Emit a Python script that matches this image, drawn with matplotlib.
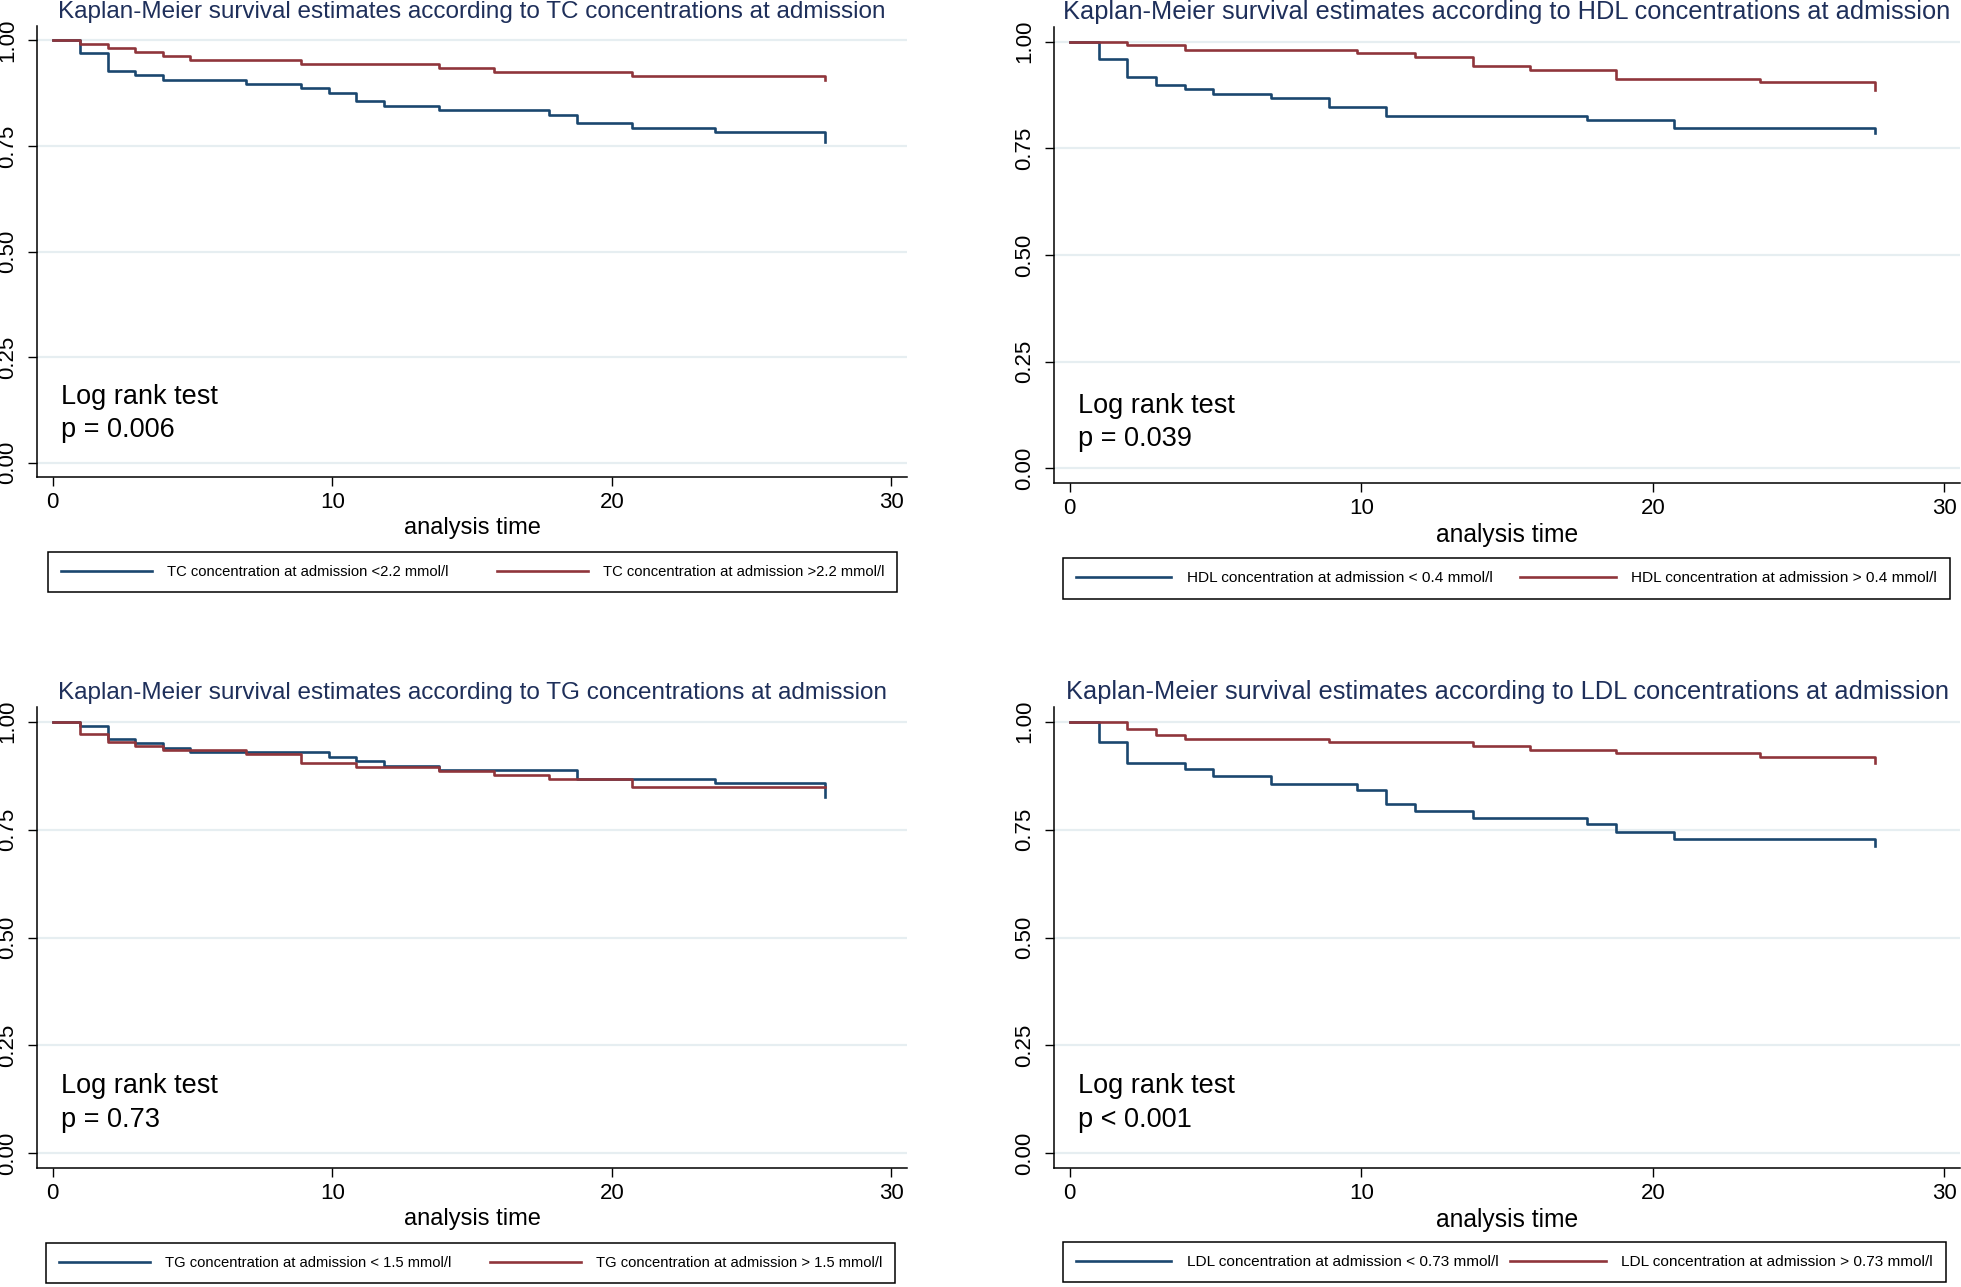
import matplotlib.pyplot as plt
import numpy as np

plt.rcParams['font.family'] = ['Liberation Sans', 'DejaVu Sans']

## survival curves, time in months (step values)
tc_lo_t = [0, 0.99, 1.97, 2.96, 3.95, 6.91, 8.88, 9.87, 10.86, 11.84, 13.82, 17.76, 18.75, 20.72, 23.68, 27.63]
tc_lo_s = [1.0, 0.969, 0.928, 0.918, 0.907, 0.897, 0.886, 0.876, 0.856, 0.845, 0.834, 0.824, 0.804, 0.793, 0.783, 0.760]
tc_hi_t = [0, 0.99, 1.97, 2.96, 3.95, 4.93, 8.88, 13.82, 15.79, 20.72, 27.63]
tc_hi_s = [1.0, 0.992, 0.982, 0.972, 0.963, 0.953, 0.945, 0.934, 0.925, 0.915, 0.905]

hdl_lo_t = [0, 0.99, 1.97, 2.96, 3.95, 4.93, 6.91, 8.88, 10.86, 17.76, 20.72, 27.63]
hdl_lo_s = [1.0, 0.959, 0.918, 0.898, 0.888, 0.877, 0.867, 0.847, 0.826, 0.817, 0.797, 0.785]
hdl_hi_t = [0, 1.97, 3.95, 9.87, 11.84, 13.82, 15.79, 18.75, 23.68, 27.63]
hdl_hi_s = [1.0, 0.991, 0.980, 0.972, 0.963, 0.943, 0.934, 0.913, 0.905, 0.886]

tg_lo_t = [0, 0.99, 1.97, 2.96, 3.95, 4.93, 9.87, 10.86, 11.84, 13.82, 18.75, 23.68, 27.63]
tg_lo_s = [1.0, 0.991, 0.959, 0.950, 0.940, 0.930, 0.918, 0.909, 0.898, 0.889, 0.867, 0.857, 0.826]
tg_hi_t = [0, 0.99, 1.97, 2.96, 3.95, 6.91, 8.88, 10.86, 13.82, 15.79, 17.76, 20.72, 27.63]
tg_hi_s = [1.0, 0.972, 0.953, 0.943, 0.934, 0.924, 0.904, 0.894, 0.886, 0.876, 0.867, 0.848, 0.848]

ldl_lo_t = [0, 0.99, 1.97, 3.95, 4.93, 6.91, 9.87, 10.86, 11.84, 13.82, 17.76, 18.75, 20.72, 27.63]
ldl_lo_s = [1.0, 0.953, 0.904, 0.890, 0.873, 0.856, 0.841, 0.809, 0.793, 0.778, 0.762, 0.745, 0.729, 0.713]
ldl_hi_t = [0, 1.97, 2.96, 3.95, 8.88, 13.82, 15.79, 18.75, 23.68, 27.63]
ldl_hi_s = [1.0, 0.984, 0.968, 0.960, 0.952, 0.943, 0.935, 0.927, 0.919, 0.904]

markers = ['TC', 'HDL', 'TG', 'LDL']
lo_labels = ['TC concentration at admission <2.2 mmol/l',
             'HDL concentration at admission < 0.4 mmol/l',
             'TG concentration at admission < 1.5 mmol/l',
             'LDL concentration at admission < 0.73 mmol/l']
hi_labels = ['TC concentration at admission >2.2 mmol/l',
             'HDL concentration at admission > 0.4 mmol/l',
             'TG concentration at admission > 1.5 mmol/l',
             'LDL concentration at admission > 0.73 mmol/l']
p_texts = ['p = 0.006', 'p = 0.039', 'p = 0.73', 'p < 0.001']
curves = [(tc_lo_t, tc_lo_s, tc_hi_t, tc_hi_s),
          (hdl_lo_t, hdl_lo_s, hdl_hi_t, hdl_hi_s),
          (tg_lo_t, tg_lo_s, tg_hi_t, tg_hi_s),
          (ldl_lo_t, ldl_lo_s, ldl_hi_t, ldl_hi_s)]

yticks = [0, 0.25, 0.5, 0.75, 1.0]
xticks = [0, 10, 20, 30]

W, H = 1961, 1287
BLUE = '#1a476f'
RED = '#90353b'
TITLE = '#1e2f5a'

# panel boxes in pixels: left, top, right, bottom ; legend boxes the same way
ax_px = [(37, 26, 907, 477), (1054, 27, 1960, 483),
         (37, 707, 907, 1168), (1054, 707, 1960, 1168)]
leg_px = [(48, 552, 897, 592), (1063, 558, 1950, 599),
          (46, 1243, 895, 1283), (1063, 1242, 1946, 1282)]
xlims = [(-0.56, 30.56), (-0.54, 30.54), (-0.56, 30.56), (-0.54, 30.54)]
# right-hand panels were exported a bit wider, text comes out a bit larger
scale = [1.0, 1.045, 1.0, 1.045]
txt_y = [(0.156, 0.077), (0.147, 0.069), (0.156, 0.077), (0.156, 0.077)]

fig = plt.figure(figsize=(W / 100, H / 100), dpi=100)

for k in range(4):
    l, t, r, b = ax_px[k]
    f = scale[k]
    ax = fig.add_axes([l / W, 1 - b / H, (r - l) / W, (b - t) / H])
    lo_t, lo_s, hi_t, hi_s = curves[k]

    for yv in yticks:
        ax.axhline(yv, color='#e6eef1', lw=1.6, zorder=0)

    ax.step(lo_t, lo_s, where='post', color=BLUE, lw=1.9, label=lo_labels[k])
    ax.step(hi_t, hi_s, where='post', color=RED, lw=1.9, label=hi_labels[k])

    ax.set_xlim(*xlims[k])
    ax.set_ylim(-0.034, 1.034)
    ax.set_xticks(xticks)
    ax.set_yticks(yticks)
    ax.set_yticklabels(['%.2f' % v for v in yticks], rotation=90, va='center')
    ax.tick_params(axis='y', length=6.5, width=1.0, pad=7, labelsize=16)
    ax.tick_params(axis='x', length=6.5, width=1.0, pad=4, labelsize=16)
    for s in ['top', 'right']:
        ax.spines[s].set_visible(False)
    for s in ['left', 'bottom']:
        ax.spines[s].set_linewidth(1.1)

    ax.set_title('Kaplan-Meier survival estimates according to %s concentrations at admission' % markers[k],
                 fontsize=17.5 * f, color=TITLE, pad=6)
    ax.set_xlabel('analysis time', fontsize=17 * f, labelpad=3)

    ax.text(0.29, txt_y[k][0], 'Log rank test', fontsize=19.5, va='center', ha='left')
    ax.text(0.29, txt_y[k][1], p_texts[k], fontsize=19.5, va='center', ha='left')

    ll, lt, lr, lb = leg_px[k]
    leg = ax.legend(loc='center', bbox_to_anchor=(ll / W, 1 - lb / H, (lr - ll) / W, (lb - lt) / H),
                    bbox_transform=fig.transFigure, mode='expand', ncol=2, fontsize=10.6 * f,
                    frameon=True, fancybox=False, edgecolor='black', framealpha=1,
                    handlelength=6.2, handletextpad=1.0, borderpad=0.85, borderaxespad=0)
    leg.get_frame().set_linewidth(1.1)

plt.savefig('out.png', dpi=100)
